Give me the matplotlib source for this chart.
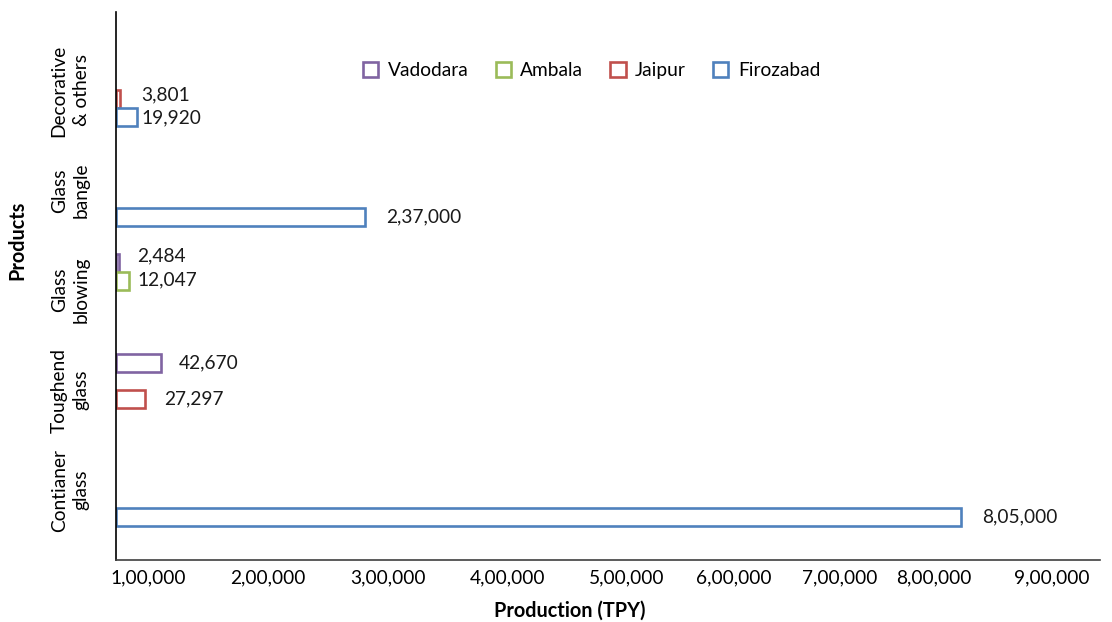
import matplotlib
matplotlib.use("Agg")
import matplotlib.pyplot as plt
from matplotlib.patches import Patch
import numpy as np

FONT = "Lato"
FONT_SIZE = 13.8

# products, bottom to top
products = ["Contianer\nglass", "Toughend\nglass", "Glass\nblowing", "Glass\nbangle", "Decorative\n& others"]
cities = ["Vadodara", "Ambala", "Jaipur", "Firozabad"]
colors = ["#8064A2", "#9BBB59", "#C0504D", "#4F81BD"]

# production in TPY, one list per city, same order as products (0 = no output)
vadodara = [0, 42670, 2484, 0, 0]
ambala = [0, 0, 12047, 0, 0]
jaipur = [0, 27297, 0, 0, 3801]
firozabad = [805000, 0, 0, 237000, 19920]

# nudge (dx, dy) of each value label, in points, keyed by (city, product)
label_nudge = {
    (0, 1): (13, 0), (0, 2): (13, 5),
    (1, 2): (6.5, 1),
    (2, 1): (14, 0), (2, 4): (15.5, 3),
    (3, 0): (15, 0), (3, 3): (15.5, 0), (3, 4): (3.5, 0),
}

tick_labels = ["1,00,000", "2,00,000", "3,00,000", "4,00,000", "5,00,000",
               "6,00,000", "7,00,000", "8,00,000", "9,00,000"]
tick_pos = [30500, 144800, 259100, 373400, 486800, 588700, 689700, 779300, 891700]


def fmt_indian(v):
    s = str(int(v))
    if len(s) <= 3:
        return s
    head, tail = s[:-3], s[-3:]
    parts = []
    while len(head) > 2:
        parts.insert(0, head[-2:])
        head = head[:-2]
    if head:
        parts.insert(0, head)
    return ",".join(parts + [tail])


plt.rcParams["font.family"] = [FONT, "DejaVu Sans"]

fig = plt.figure(figsize=(11.12, 6.22), dpi=100)
ax = fig.add_axes([0.1043, 0.0997, 0.8847, 0.8810])

series = [vadodara, ambala, jaipur, firozabad]
slot = 0.18
y_base = np.arange(len(products))

for i, (vals, col) in enumerate(zip(series, colors)):
    ys = y_base + (1.5 - i) * slot
    for j, v in enumerate(vals):
        if v <= 0:
            continue
        ax.barh(ys[j], v, height=slot, left=0, facecolor="white",
                edgecolor=col, linewidth=1.9)
        ax.annotate(fmt_indian(v), (v, ys[j]), xytext=label_nudge.get((i, j), (14, 0)),
                    textcoords="offset points", ha="left", va="center",
                    fontsize=FONT_SIZE, color="#1a1a1a")

ax.set_xlim(0, 937400)
ax.set_ylim(-0.7, 4.785)

ax.set_xticks(tick_pos)
ax.set_xticklabels(tick_labels, fontsize=FONT_SIZE)
ax.set_yticks(y_base)
ax.set_yticklabels(products, rotation=90, va="center", ha="center",
                   multialignment="center", linespacing=1.35, fontsize=FONT_SIZE)
ax.tick_params(axis="x", length=0, pad=7)
ax.tick_params(axis="y", length=0, pad=33)

for side in ["top", "right"]:
    ax.spines[side].set_visible(False)
ax.spines["left"].set_color("black")
ax.spines["left"].set_linewidth(1.2)
ax.spines["bottom"].set_color("#404040")
ax.spines["bottom"].set_linewidth(1.2)

fig.text(0.512, 0.019, "Production (TPY)", ha="center", va="center",
         fontsize=FONT_SIZE + 0.5, fontweight="bold")
fig.text(0.016, 0.614, "Products", ha="center", va="center", rotation=90,
         fontsize=FONT_SIZE + 0.5, fontweight="bold")

handles = [Patch(facecolor="white", edgecolor=c, linewidth=1.9, label=n)
           for n, c in zip(cities, colors)]
fig.legend(handles=handles, loc="center", bbox_to_anchor=(0.532, 0.886), ncol=4,
           frameon=False, fontsize=FONT_SIZE, handlelength=0.8, handleheight=0.8,
           handletextpad=0.5, columnspacing=1.4)

fig.savefig("out.png", dpi=100)
